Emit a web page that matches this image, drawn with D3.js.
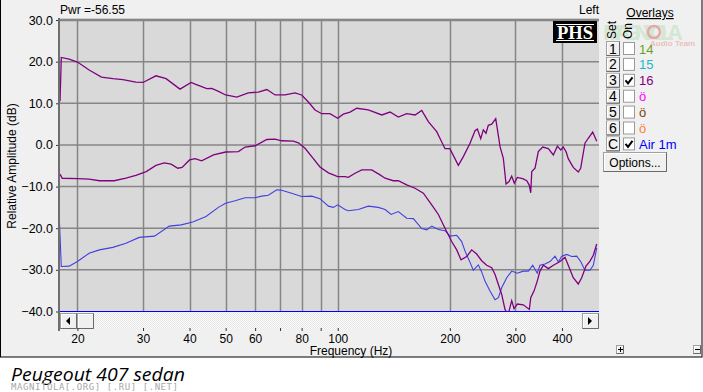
<!DOCTYPE html>
<html>
<head>
<meta charset="utf-8">
<script src="https://cdnjs.cloudflare.com/ajax/libs/d3/7.8.5/d3.min.js"></script>
<style>
  body { margin: 0; background: #fff; }
  svg { font-family: "Liberation Sans", Arial, sans-serif; }
</style>
</head>
<body>
<div id="chart"></div>
<script>
// Frequency values (Hz) and amplitudes (dB)
var topFreq = [17.96, 18.1, 19.0, 20, 21.5, 23.2, 24.9, 26.5, 28.7, 30, 32.5, 34.6, 37.7, 40.4, 41.4, 44.5, 45.9, 48, 50, 53.6, 57.5, 61.2, 64.5, 67.9, 72.2, 76.8, 80, 83.4, 86.9, 90.6, 95.3, 100, 103.5, 107.9, 112.5, 120.8, 131.3, 138.2, 145.4, 153.2, 161.3, 168.1, 175.1, 184.4, 194.1, 200, 210.8, 217.4, 226.6, 233.7, 237.1, 242.1, 246.0, 250.1, 253.7, 259.1, 265.6, 272.8, 278.4, 283.1, 288.4, 293.2, 298.0, 303.6, 313.9, 321.8, 327.0, 329.8, 331.9, 338.7, 345.6, 355.1, 367.7, 379.3, 388.8, 397.0, 403.4, 410.2, 415.9, 429.0, 442.5, 449.1, 461.2, 470.7, 483.7, 496.0];
var topDb = [10.5, 21.0, 20.6, 19.9, 18.0, 16.3, 15.9, 15.7, 15.1, 15.0, 16.6, 15.9, 13.4, 15.0, 14.6, 13.5, 13.6, 12.8, 12.0, 11.5, 12.5, 12.7, 13.3, 12.0, 12.0, 12.5, 12.0, 10.3, 8.4, 7.5, 7.5, 6.4, 7.4, 7.9, 8.8, 8.4, 7.2, 7.9, 6.7, 7.5, 7.2, 8.3, 5.6, 3.2, -0.9, -0.9, -4.9, -2.8, 0.4, 3.4, 3.8, 1.5, 3.6, 2.8, 4.7, 5.0, 6.3, -0.4, -3.2, -9.4, -8.8, -7.5, -9.2, -7.8, -8.1, -8.6, -9.7, -11.5, -6.4, -5.6, -1.6, -0.5, -0.9, -2.4, -0.3, -1.2, -0.5, -1.6, -3.3, -5.4, -6.5, -5.6, 0.4, 1.6, 3.1, 0.9];

var midFreq = [17.96, 18.2, 20, 21.5, 22.9, 25.1, 27.0, 28.7, 30.6, 32.5, 34.2, 35.7, 37.2, 38.2, 40, 41.4, 43.1, 46.4, 50, 54.1, 56.4, 60.0, 64.5, 67.9, 70.7, 76.0, 78.4, 81.7, 86.0, 89.6, 94.4, 100, 104.6, 106.8, 111.3, 116.0, 123.4, 129.9, 134.0, 141.0, 145.4, 153.2, 161.3, 169.8, 178.8, 186.3, 194.1, 202.3, 208.7, 214.3, 222.0, 228.9, 236.1, 243.5, 251.2, 259.1, 264.5, 270.0, 275.6, 281.3, 286.6, 293.2, 297.4, 303.6, 315.0, 327.0, 329.8, 336.5, 343.4, 349.2, 356.5, 367.7, 379.3, 395.4, 407.7, 415.9, 429.0, 442.5, 451.9, 464.1, 475.7, 485.6, 496.0];
var midDb = [-7.0, -8.0, -8.1, -8.2, -8.6, -8.6, -8.0, -7.3, -6.4, -4.9, -4.3, -4.6, -5.6, -5.4, -3.6, -3.3, -3.8, -2.4, -1.7, -1.6, -0.5, -0.2, 1.3, 1.4, 1.0, 0.9, 0.5, -0.8, -3.3, -5.3, -6.7, -7.6, -7.6, -7.8, -6.8, -6.0, -6.0, -7.2, -8.0, -8.6, -8.6, -9.6, -10.4, -11.6, -14.4, -16.7, -20.0, -23.2, -25.2, -27.6, -26.8, -25.2, -26.2, -27.8, -28.9, -29.5, -31.1, -33.5, -35.9, -39.5, -40.8, -37.4, -39.3, -38.2, -38.4, -39.5, -36.7, -35.1, -32.7, -30.3, -28.9, -29.7, -28.9, -28.0, -27.0, -28.9, -31.9, -33.4, -31.9, -29.1, -27.9, -26.5, -23.8];

var airFreq = [17.88, 18.1, 19.0, 20, 21.5, 22.9, 24.9, 27.0, 29.3, 32.2, 35.3, 38.0, 40.8, 44.3, 47.8, 50, 53.0, 56.4, 60.0, 62.5, 65.1, 68.6, 70.7, 75.2, 80, 85.2, 89.6, 94.4, 97.3, 100, 104.6, 106.8, 113.6, 120.8, 128.5, 134.0, 139.1, 145.4, 153.2, 159.6, 168.1, 173.4, 178.8, 186.3, 194.1, 200.3, 208.7, 215.2, 219.7, 226.6, 231.2, 238.5, 243.5, 248.5, 256.4, 264.5, 270.0, 275.6, 284.3, 293.2, 303.6, 315.0, 324.9, 333.9, 343.4, 349.2, 360.3, 371.6, 383.3, 391.2, 399.5, 412.0, 424.9, 438.2, 449.1, 461.2, 475.7, 485.6, 496.0];
var airDb = [-17.7, -29.2, -29.1, -28.0, -26.0, -25.2, -24.6, -23.6, -22.2, -21.9, -19.5, -19.2, -18.5, -17.2, -15.0, -14.0, -13.4, -12.7, -12.7, -12.3, -12.1, -10.8, -10.9, -11.6, -12.4, -12.3, -12.9, -14.7, -15.0, -14.4, -15.5, -15.8, -15.5, -14.7, -15.0, -15.5, -16.7, -16.0, -17.6, -17.7, -20.1, -20.4, -19.5, -20.3, -20.6, -21.9, -21.7, -23.2, -25.5, -28.2, -30.1, -28.8, -30.5, -32.7, -35.1, -37.2, -36.7, -34.3, -31.9, -30.3, -30.8, -30.3, -30.3, -28.9, -30.8, -28.9, -28.6, -28.0, -26.7, -28.1, -26.7, -26.3, -26.8, -26.7, -28.0, -30.1, -30.1, -28.9, -24.7];

// Axis ticks
var xGrid = [20, 30, 40, 50, 60, 70, 80, 90, 100, 200, 300, 400];
var xLabels = [20, 30, 40, 50, 60, 80, 100, 200, 300, 400];
var yTicks = [30, 20, 10, 0, -10, -20, -30, -40];

// Overlay panel
var setKeys = ["1", "2", "3", "4", "5", "6", "C"];
var overlayNames = ["14", "15", "16", "ö", "ö", "ö", "Air 1m"];
var overlayColors = ["#6aa020", "#20b8c8", "#800080", "#ff00ff", "#804000", "#ff8040", "#0000ff"];
var overlayOn = [false, false, true, false, false, false, true];

var W = 703, H = 392;
var plot = {left: 59.5, right: 599, top: 20, bottom: 311.5};

var svg = d3.select("#chart").append("svg")
    .attr("width", W)
    .attr("height", H);

// Window frame
svg.append("rect")
    .attr("x", 0.5).attr("y", -1)
    .attr("width", 701.5).attr("height", 358)
    .attr("fill", "#f0f0f0")
    .attr("stroke", "#000");

var defs = svg.append("defs");
defs.append("clipPath").attr("id", "plotclip")
  .append("rect")
    .attr("x", plot.left).attr("y", plot.top - 1)
    .attr("width", plot.right - plot.left).attr("height", plot.bottom - plot.top + 1);

var hatch = defs.append("pattern").attr("id", "hatch")
    .attr("width", 2).attr("height", 2).attr("patternUnits", "userSpaceOnUse");
hatch.append("rect").attr("width", 2).attr("height", 2).attr("fill", "#fcfcfc");
hatch.append("rect").attr("width", 1).attr("height", 1).attr("fill", "#e6e6e6");
hatch.append("rect").attr("x", 1).attr("y", 1).attr("width", 1).attr("height", 1).attr("fill", "#e6e6e6");

// Scales
var x = d3.scaleLog().domain([17.9, 503]).range([plot.left, plot.right]);
var y = d3.scaleLinear().domain([-40, 30]).range([plot.bottom, plot.top]);

// Plot background
svg.append("rect")
    .attr("x", plot.left).attr("y", plot.top - 1.5)
    .attr("width", plot.right - plot.left).attr("height", plot.bottom - plot.top + 1.5)
    .attr("fill", "#d9d9d9");

// Grid
svg.append("g").selectAll("line")
    .data(xGrid)
    .enter().append("line")
    .attr("x1", function(d) { return Math.round(x(d)) + 0.5; })
    .attr("x2", function(d) { return Math.round(x(d)) + 0.5; })
    .attr("y1", plot.top).attr("y2", plot.bottom)
    .attr("stroke", "#868686").attr("stroke-width", 1.5);

svg.append("g").selectAll("line")
    .data(yTicks.filter(function(d) { return d > -40; }))
    .enter().append("line")
    .attr("x1", plot.left).attr("x2", plot.right)
    .attr("y1", function(d) { return y(d); })
    .attr("y2", function(d) { return y(d); })
    .attr("stroke", "#868686")
    .attr("stroke-width", function(d) { return d == 30 ? 2.5 : 1.5; });

svg.append("line")
    .attr("x1", plot.left).attr("x2", plot.right)
    .attr("y1", y(-40)).attr("y2", y(-40))
    .attr("stroke", "#0000ff").attr("stroke-width", 1.2);

// Curves
var line = d3.line()
    .x(function(d) { return x(d[0]); })
    .y(function(d) { return y(d[1]); });

var curves = svg.append("g").attr("clip-path", "url(#plotclip)");
curves.append("path")
    .datum(d3.zip(airFreq, airDb))
    .attr("d", line)
    .attr("fill", "none").attr("stroke", "#4040e0").attr("stroke-width", 1.1);
curves.append("path")
    .datum(d3.zip(midFreq, midDb))
    .attr("d", line)
    .attr("fill", "none").attr("stroke", "#800080").attr("stroke-width", 1.3);
curves.append("path")
    .datum(d3.zip(topFreq, topDb))
    .attr("d", line)
    .attr("fill", "none").attr("stroke", "#800080").attr("stroke-width", 1.3);

// Scrollbar under the plot
var sb = svg.append("g");
sb.append("rect")
    .attr("x", plot.left).attr("y", 312.5)
    .attr("width", plot.right - plot.left).attr("height", 17)
    .attr("fill", "url(#hatch)");

function bevel(g, bx, by, bw, bh) {
    g.append("rect").attr("x", bx).attr("y", by).attr("width", bw).attr("height", bh)
        .attr("fill", "#f0f0f0").attr("stroke", "#a0a0a0");
    g.append("path")
        .attr("d", "M" + (bx + 1) + "," + (by + bh - 1) + "V" + (by + 1) + "H" + (bx + bw - 1))
        .attr("fill", "none").attr("stroke", "#fff");
    g.append("path")
        .attr("d", "M" + bx + "," + (by + bh) + "H" + (bx + bw) + "V" + by)
        .attr("fill", "none").attr("stroke", "#696969");
}

bevel(sb, 60.5, 313.5, 16, 15);
bevel(sb, 77.5, 313.5, 16, 15);
bevel(sb, 582.5, 313.5, 16, 15);
sb.append("path").attr("d", "M66,321L70,317V325Z").attr("fill", "#000");
sb.append("path").attr("d", "M592,321L588,317V325Z").attr("fill", "#000");

// Left axis line
svg.append("line")
    .attr("x1", 59).attr("x2", 59)
    .attr("y1", 18).attr("y2", 331)
    .attr("stroke", "#6e6e6e").attr("stroke-width", 2);

// Y axis
var yAxis = svg.append("g")
    .attr("transform", "translate(58,0)")
    .call(d3.axisLeft(y).tickValues(yTicks).tickFormat(d3.format(".1f")).tickSize(2).tickPadding(3));
yAxis.select(".domain").remove();
yAxis.selectAll("line").attr("stroke", "#333");
yAxis.selectAll("text").attr("font-size", 12.5).attr("fill", "#000")
    .attr("font-family", null);

// X axis
var xAxis = svg.append("g")
    .attr("transform", "translate(0,328)")
    .call(d3.axisBottom(x).tickValues(xGrid)
        .tickFormat(function(d) { return xLabels.indexOf(d) >= 0 ? d : ""; })
        .tickSize(3).tickPadding(3));
xAxis.select(".domain").remove();
xAxis.selectAll("line").attr("stroke", "#333");
xAxis.selectAll("text").attr("font-size", 12).attr("fill", "#000")
    .attr("font-family", null);

// Axis titles
svg.append("text")
    .attr("x", 351).attr("y", 355)
    .attr("text-anchor", "middle").attr("font-size", 12)
    .text("Frequency (Hz)");

svg.append("text")
    .attr("transform", "translate(16,166) rotate(-90)")
    .attr("text-anchor", "middle").attr("font-size", 12)
    .text("Relative Amplitude (dB)");

// Header texts
svg.append("text").attr("x", 60).attr("y", 14).attr("font-size", 12).text("Pwr =-56.55");
svg.append("text").attr("x", 599).attr("y", 14).attr("font-size", 12)
    .attr("text-anchor", "end").text("Left");

// PHS logo
svg.append("rect").attr("x", 553).attr("y", 21).attr("width", 44).attr("height", 22).attr("fill", "#000");
svg.append("text").attr("x", 575).attr("y", 39)
    .attr("text-anchor", "middle").attr("font-size", 19).attr("font-weight", "bold")
    .style("font-family", "'Liberation Serif', 'DejaVu Serif', serif")
    .attr("textLength", 36).attr("lengthAdjust", "spacingAndGlyphs")
    .attr("fill", "#fff").text("PHS");
svg.append("line").attr("x1", 556).attr("x2", 594).attr("y1", 24.5).attr("y2", 24.5)
    .attr("stroke", "#fff");
svg.append("line").attr("x1", 556).attr("x2", 594).attr("y1", 40.5).attr("y2", 40.5)
    .attr("stroke", "#fff");

// Faint watermark logo behind the overlay panel
var wm = svg.append("g").attr("opacity", 0.5);
wm.append("text").attr("x", 603).attr("y", 40).attr("font-size", 22).attr("font-weight", "bold")
    .attr("fill", "#b8e0b8").attr("textLength", 80).text("MAGNITOLA");
wm.append("circle").attr("cx", 654).attr("cy", 32).attr("r", 6)
    .attr("fill", "none").attr("stroke", "#e06060").attr("stroke-width", 2.5);
wm.append("text").attr("x", 650).attr("y", 46).attr("font-size", 8).attr("font-weight", "bold")
    .attr("fill", "#e89090").text("Audio Team");

// Overlay panel
svg.append("text").attr("x", 650).attr("y", 17)
    .attr("text-anchor", "middle").attr("font-size", 12)
    .attr("text-decoration", "underline").text("Overlays");
svg.append("text").attr("transform", "translate(616,39) rotate(-90)")
    .attr("font-size", 12).text("Set");
svg.append("text").attr("transform", "translate(632,39) rotate(-90)")
    .attr("font-size", 12).text("On");

var rows = svg.append("g").selectAll("g")
    .data(setKeys)
    .enter().append("g")
    .attr("transform", function(d, i) { return "translate(0," + (41 + i * 15.9) + ")"; });

rows.each(function(d, i) {
    var g = d3.select(this);
    bevel(g, 606.5, 0.5, 13, 14);
    g.append("text").attr("x", 613).attr("y", 12.5)
        .attr("text-anchor", "middle").attr("font-size", 14).text(d);
    g.append("rect").attr("x", 623.5).attr("y", 1.5).attr("width", 11).attr("height", 12)
        .attr("fill", "#fff").attr("stroke", "#9a9a9a");
    if (overlayOn[i]) {
        g.append("path").attr("d", "M625.5,7.5L628,10.5L632.5,4.5")
            .attr("fill", "none").attr("stroke", "#000").attr("stroke-width", 2);
    }
    g.append("text").attr("x", 639).attr("y", 12.5)
        .attr("font-size", 13).attr("fill", overlayColors[i]).text(overlayNames[i]);
});

// Options button
var opt = svg.append("g");
bevel(opt, 603.5, 152.5, 63, 19);
opt.append("text").attr("x", 635).attr("y", 166.5)
    .attr("text-anchor", "middle").attr("font-size", 12).text("Options...");

// Zoom buttons at the bottom
var zb = svg.append("g");
bevel(zb, 616.5, 345.5, 7, 8);
bevel(zb, 693.5, 345.5, 7, 8);
zb.append("path").attr("d", "M618,349.5H623M620.5,347V352").attr("stroke", "#000");
zb.append("path").attr("d", "M695,349.5H700").attr("stroke", "#000");

// Caption below the window
svg.append("text").attr("x", 11).attr("y", 381)
    .attr("font-size", 18).attr("font-style", "italic")
    .style("font-family", "'Open Sans', 'Liberation Sans', sans-serif")
    .attr("textLength", 174).attr("lengthAdjust", "spacingAndGlyphs")
    .text("Peugeout 407 sedan");
svg.append("text").attr("x", 11).attr("y", 389.5)
    .attr("font-size", 9).attr("fill", "#a8a8a8")
    .style("font-family", "'DejaVu Sans Mono', monospace")
    .attr("textLength", 167)
    .text("MAGNITOLA[.ORG] [.RU] [.NET]");
</script>
</body>
</html>
